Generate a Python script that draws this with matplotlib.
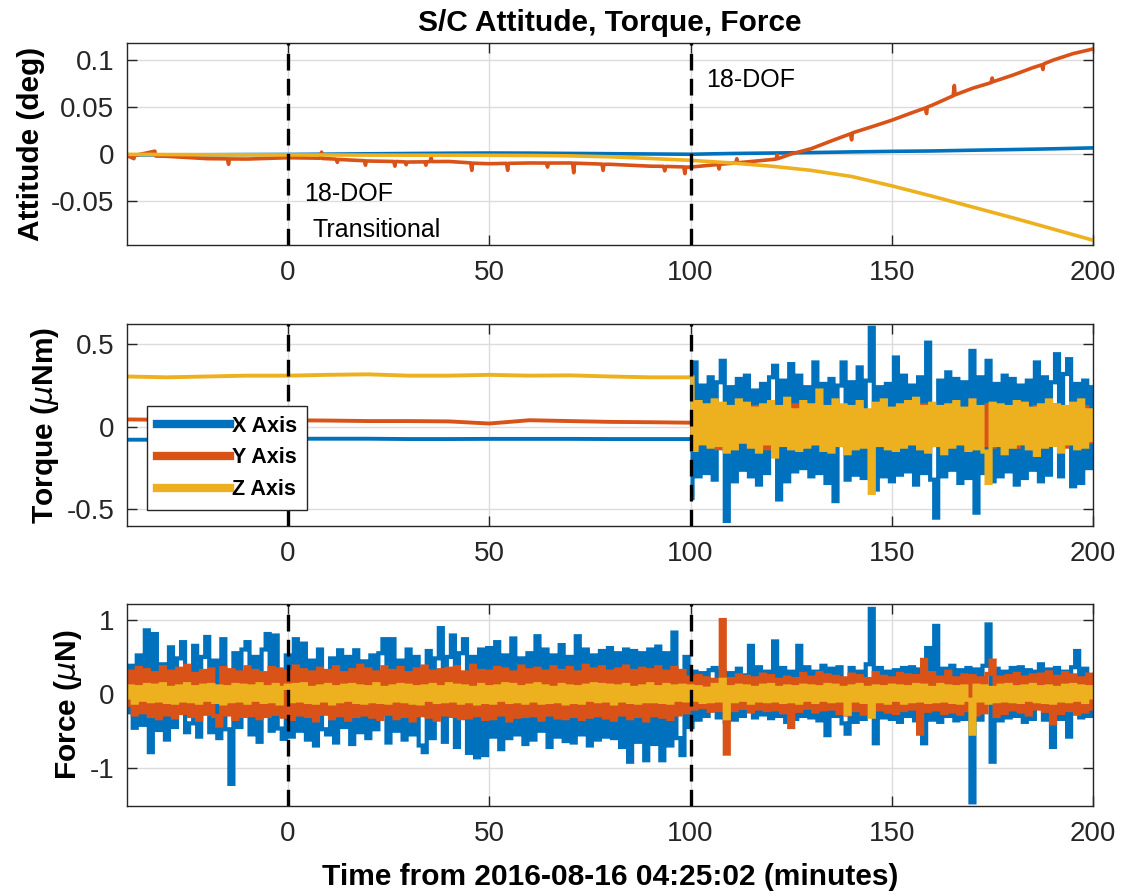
import numpy as np
import matplotlib
matplotlib.use("Agg")
import matplotlib.pyplot as plt
from matplotlib.ticker import FuncFormatter

plt.rcParams['font.family'] = ['Liberation Sans', 'DejaVu Sans']
plt.rcParams['mathtext.fontset'] = 'dejavusans'

BLUE, RED, YEL = '#0072BD', '#D95319', '#EDB120'
AXIS_LABELS = ['X Axis', 'Y Axis', 'Z Axis']

# --- attitude (deg), 10-min grid ---
T_ATT = [-40, -30, -20, -10, 0, 10, 20, 30, 40, 50, 60, 70, 80, 90, 100,
         110, 120, 130, 140, 150, 160, 170, 180, 190, 200]
ATT_X = [-0.001, -0.0009, -0.0008, -0.0006, -0.0005, -0.0002, 0.0002, 0.0005, 0.0008, 0.001,
         0.0009, 0.0006, 0.0003, 0.0, -0.0003, 0.0005, 0.001, 0.0015, 0.0022, 0.0028,
         0.0032, 0.004, 0.0047, 0.0055, 0.0065]
ATT_Z = [-0.0004, -0.0006, -0.0008, -0.0009, -0.001, -0.0011, -0.0012, -0.0013, -0.0013, -0.0014,
         -0.0016, -0.002, -0.003, -0.0048, -0.0068, -0.0095, -0.013, -0.0175, -0.024, -0.034,
         -0.045, -0.0565, -0.068, -0.080, -0.092]
# Y attitude has small one-sample glitches, so it keeps its own time stamps
T_ATT_Y = [-40, -38.2, -38.0, -33, -32.8, -30, -20, -15, -14.7, -14.5, -10, 0, 8, 8.4, 8.6,
           12, 12.3, 12.5, 19, 19.3, 19.5, 20, 26.3, 26.6, 26.8, 29.1, 29.4, 29.6, 34, 34.3,
           34.5, 35.3, 35.6, 35.8, 40, 45.4, 45.7, 45.9, 50, 54.3, 54.6, 54.8, 60, 64.2, 64.5,
           64.7, 70, 70.7, 71, 71.2, 78, 78.3, 78.5, 80, 90, 93.3, 93.6, 93.8, 98.3, 98.6,
           98.8, 100, 106.8, 107.1, 107.3, 110, 111.2, 111.5, 111.7, 120, 121.2, 121.5, 121.7, 125, 130,
           135, 139.7, 140, 140.2, 145, 150, 155, 158.3, 158.6, 158.8, 160, 165.2, 165.5, 165.7,
           170, 174.6, 174.9, 175.1, 180, 185, 187.2, 187.5, 187.7, 190, 195, 200]
ATT_Y = [-0.0015, -0.005, -0.0016, 0.003, -0.0022, -0.0025, -0.005, -0.0052, -0.011, -0.0053,
         -0.0054, -0.004, -0.0045, 0.002, -0.0048, -0.0055, -0.009, -0.0058, -0.0072, -0.012,
         -0.0074, -0.0075, -0.008, -0.013, -0.008, -0.0085, -0.0115, -0.0086, -0.0084, -0.012,
         -0.0083, -0.0082, -0.004, -0.0081, -0.008, -0.0095, -0.0175, -0.0098, -0.0104, -0.010,
         -0.0175, -0.010, -0.0096, -0.0097, -0.014, -0.0097, -0.0096, -0.0097, -0.020, -0.0098,
         -0.0108, -0.0175, -0.011, -0.011, -0.013, -0.0132, -0.018, -0.0133, -0.0138, -0.021,
         -0.014, -0.014, -0.0112, -0.016, -0.011, -0.010, -0.0095, -0.005, -0.0094, -0.006,
         -0.0055, -0.001, -0.005, 0.0, 0.0057, 0.014, 0.0215, 0.015, 0.0225, 0.029,
         0.036, 0.044, 0.049, 0.043, 0.050, 0.052, 0.062, 0.073, 0.063, 0.070,
         0.076, 0.081, 0.077, 0.084, 0.092, 0.095, 0.090, 0.096, 0.100, 0.107, 0.112]

# --- torque (uNm): steady part before 100 min ---
T_TQ_PRE = [-40, -30, -20, -10, 0, 10, 20, 30, 40, 50, 60, 70, 80, 90, 100]
TQ_X_PRE = [-0.078, -0.078, -0.076, -0.074, -0.072, -0.072, -0.072, -0.074, -0.074, -0.073,
            -0.073, -0.073, -0.074, -0.074, -0.074]
TQ_Y_PRE = [0.045, 0.042, 0.040, 0.040, 0.040, 0.038, 0.035, 0.035, 0.033, 0.020,
            0.040, 0.035, 0.030, 0.028, 0.025]
TQ_Z_PRE = [0.305, 0.300, 0.305, 0.310, 0.310, 0.315, 0.318, 0.310, 0.310, 0.315,
            0.310, 0.312, 0.305, 0.300, 0.300]

# --- torque after 100 min, one sample per minute (hundredths of uNm) ---
T_TQ_POST = np.arange(100, 201)
TQ_X_POST = np.array([
    -43, 39, -30, 25, -28, 30, -32, 27, 40, -57,
    24, -33, 29, -26, 31, -30, 22, -35, 26, -28,
    30, 37, -44, 28, -33, 38, -27, 31, -25, 24,
    -30, 39, -28, 26, -34, 29, -45, 25, 39, -32,
    27, -29, 36, -31, 28, 60, -38, 24, -30, 26,
    -33, 42, -29, 31, -27, 25, -35, 30, -28, 51,
    -32, -55, 28, -30, 33, -26, 29, -34, 27, -31,
    46, -52, 30, -28, 40, -33, 26, -30, 31, -27,
    29, -35, 25, -31, 28, -26, 39, -33, 30, -29,
    27, 44, -30, 32, 41, -36, 26, -34, 28, -25,
    24]) / 100
TQ_Y_POST = np.array([
    3, -12, 10, -9, 12, -11, 8, -13, 11, -10,
    9, -12, 13, -8, 10, -11, 12, -9, 11, -13,
    10, -9, 12, -11, 8, -12, 13, -10, 9, -11,
    12, -10, 11, -13, 9, -8, 12, -11, 10, -12,
    11, -9, 13, -10, 8, -12, 10, -11, 12, -9,
    10, -13, 9, -11, 12, -10, 11, -8, 13, -12,
    9, -11, 10, -12, 12, -9, 11, -10, 8, -13,
    12, -10, 9, -11, 13, -12, 10, -9, 11, -10,
    8, -12, 11, -9, 10, -13, 12, -11, 9, -10,
    13, -9, 10, -12, 11, -10, 8, -11, 12, -9,
    5]) / 100
TQ_Z_POST = np.array([
    30, -14, 15, -10, 13, -12, 16, -11, 14, -15,
    12, -13, 16, -9, 14, -12, 11, -15, 13, -10,
    15, -18, 12, -11, 17, -13, 10, -14, 15, -12,
    13, -10, 22, -14, 12, -15, 16, -11, 13, -16,
    12, -13, 15, -12, 10, -40, 14, -11, 16, -13,
    11, -14, 13, -12, 15, -10, 17, -13, 12, -15,
    14, -11, 12, -16, 13, -12, 15, -10, 11, -14,
    16, -13, 12, -15, -34, 14, -11, 13, -16, 12,
    -12, 15, -10, 14, -13, 11, -17, 13, -12, 16,
    -11, 13, -15, 12, -10, 14, -13, 16, -12, 10,
    -8]) / 100

# --- force (uN), one sample per minute (hundredths of uN) ---
T_F = np.arange(-40, 201)
F_X = np.array([
    -25, 38, -46, 52, -42, 86, -79, 81, -49, 40,
    -62, 63, -45, 48, 70, -52, -40, 65, -58, 50,
    77, -52, 45, -60, 74, -48, -122, 55, -45, 60,
    70, -55, 50, -65, 60, 81, -50, 79, -47, -61,
    52, -58, 74, -50, 68, -62, 45, -70, 60, -48,
    -55, 48, -66, 59, -45, 50, -68, 59, -52, 44,
    -60, 52, -48, 55, 74, -66, 74, -50, 45, -62,
    60, -55, 50, -70, -79, 58, -60, 48, 89, -65,
    50, 79, -72, 55, 74, -80, 50, -86, 60, -83,
    62, -58, 70, -75, 52, -60, 75, -55, 48, -68,
    55, -62, 78, -50, 60, -72, 52, -58, 66, -64,
    50, -66, 78, -55, 60, -70, 52, -62, 58, -58,
    62, -60, 55, -72, 60, -92, 58, -65, 55, -90,
    60, -68, 64, -90, 55, -70, 83, -60, -83, 50,
    -45, 30, -35, 28, -30, 32, 35, -32, 30, -38,
    28, -35, 34, -30, 25, 65, -32, 36, -28, 30,
    -33, 71, -30, 35, -38, 30, -34, 65, -30, 36,
    -32, 30, -36, 38, -56, 34, -30, 36, -40, -54,
    35, -38, 30, -34, 40, 115, -67, 35, -32, 30,
    -34, 32, -38, 35, -30, 36, -36, 33, -67, 62,
    -35, 92, -38, 34, -30, 38, -36, 32, -34, 35,
    -147, 33, -35, 38, 94, -92, 34, -36, 30, -32,
    35, -30, 36, -38, 32, -34, 30, 40, -35, 33,
    -72, 35, -34, 30, -58, 36, 58, -32, 34, -30,
    25]) / 100
F_Y = np.array([
    -15, 30, -28, 35, -25, 32, -30, 28, -33, 36,
    -28, 30, -32, 34, -26, 38, -30, 27, -35, 31,
    -27, 33, -30, -43, 35, -28, 32, -34, 29, -30,
    36, -29, 31, -33, 28, -30, 35, -27, 33, -31,
    30, -34, 37, -28, 32, -30, 29, -36, 34, -27,
    31, -33, 36, -29, 28, -35, 32, -30, 38, -28,
    33, -31, 29, -34, 36, -27, 31, -33, 35, -30,
    28, -36, 33, -29, 37, -31, 30, -35, 32, -28,
    34, -30, 36, -33, 29, -32, 38, -29, 31, -34,
    30, -33, 35, -28, 33, -36, 29, -31, 37, -30,
    32, -29, 34, -35, 30, -28, 36, -32, 31, -33,
    35, -30, 29, -34, 38, -31, 33, -29, 36, -32,
    30, -35, 33, -28, 37, -33, 31, -30, 34, -36,
    32, -29, 36, -31, 30, -34, 35, -28, 31, -25,
    22, -20, 24, -18, 21, -23, 19, -22, 100, -81,
    20, -22, 25, -19, 23, -24, 21, -20, 26, -22,
    24, -21, 19, -25, 22, -45, 20, -23, 27, -19,
    22, -24, 28, -21, 25, -20, 23, -26, 21, -28,
    26, -22, 24, -27, 20, -25, 28, -21, 23, -24,
    21, -26, 27, -22, 25, -20, 24, -54, 46, -23,
    28, -21, 22, -26, 30, -24, 21, -27, 25, -22,
    24, -28, 21, -25, 27, 45, -30, 22, -26, 24,
    -21, 27, -24, 22, -28, 25, -20, 26, -23, 29,
    -40, 23, -26, 28, -22, 25, -27, 21, -24, 26,
    -20]) / 100
F_Z = np.array([
    -5, 10, -12, 9, -8, 12, -10, 11, -9, 13,
    -11, 8, -12, 10, -9, 13, -10, 9, -12, 11,
    -8, 12, -11, 10, -13, 9, -10, 12, -9, 11,
    -12, 10, -8, 13, -11, 9, -10, 12, -13, 8,
    11, -10, 12, -9, 13, -11, 8, -12, 10, -9,
    12, -13, 9, -10, 11, -8, 12, -11, 10, -12,
    9, -10, 13, -11, 8, -12, 10, -9, 12, -10,
    11, -12, 9, -13, 10, -8, 12, -11, 9, -10,
    13, -9, 11, -12, 10, -10, 8, -13, 12, -11,
    9, -12, 10, -8, 13, -11, 12, -10, 9, -12,
    11, -9, 13, -12, 10, -11, 8, -10, 12, -13,
    10, -11, 9, -12, 11, -8, 13, -10, 12, -9,
    11, -13, 10, -9, 12, -11, 8, -12, 10, -10,
    13, -10, 9, -11, 12, -12, 10, -8, 11, -9,
    10, -8, 9, -11, 7, -10, 12, -9, 19, -33,
    9, -10, 11, -8, 10, -12, 8, -9, 11, -10,
    12, -9, 8, -11, 10, -10, 9, -12, 11, -8,
    10, -11, 9, -8, 12, -10, 11, -9, 8, -27,
    10, -9, 12, -11, 8, -31, 10, -10, 9, -12,
    11, -8, 10, -12, 9, -10, 12, -9, 11, -11,
    8, -10, 12, -9, 10, -11, 9, -12, 10, -8,
    -54, 11, -9, 10, -12, 8, -10, 11, -9, 12,
    -10, 9, -11, 10, -8, 12, -10, 9, -11, 10,
    -12, 8, -9, 11, -10, 12, -8, 10, -11, 9,
    -5]) / 100

EVENTS = [0, 100]
LABEL_FS = 21.5
# dense noisy traces: drawn as steps so the band fills like the original
NOISE = dict(lw=3.0, drawstyle='steps-mid', snap=False,
             solid_joinstyle='miter', solid_capstyle='butt')


def style(ax, ylim, yticks):
    ax.set_xlim(-40, 200)
    ax.set_ylim(*ylim)
    ax.set_xticks([0, 50, 100, 150, 200])
    ax.set_yticks(yticks)
    ax.yaxis.set_major_formatter(FuncFormatter(lambda v, p: f'{v:g}'))
    ax.tick_params(direction='in', length=7, width=1, top=True, right=True,
                   labelsize=20, colors='#262626')
    ax.tick_params(axis='x', pad=11)
    ax.tick_params(axis='y', pad=9)
    ax.grid(True, color='#DCDCDC', lw=1)
    for s in ax.spines.values():
        s.set_color('#262626')
        s.set_linewidth(1)
    for t0 in EVENTS:
        ax.axvline(t0, color='k', lw=2.4, ls=(0, (5, 2.5)), zorder=5)


fig = plt.figure(figsize=(11.25, 8.96), dpi=100)
L, W = 0.1126, 0.8592
ax1 = fig.add_axes([L, 0.7266, W, 0.2251])
ax2 = fig.add_axes([L, 0.4129, W, 0.2255])
ax3 = fig.add_axes([L, 0.1004, W, 0.2252])

# attitude
ax1.plot(T_ATT, ATT_X, color=BLUE, lw=2.6)
ax1.plot(T_ATT_Y, ATT_Y, color=RED, lw=2.6)
ax1.plot(T_ATT, ATT_Z, color=YEL, lw=2.6)
style(ax1, (-0.097, 0.118), [-0.05, 0, 0.05, 0.1])
ax1.set_ylabel('Attitude (deg)', fontsize=LABEL_FS, fontweight='bold')
ax1.text(4, -0.0425, '18-DOF', fontsize=18, va='center', ha='left')
ax1.text(6.2, -0.081, 'Transitional', fontsize=18, va='center', ha='left')
ax1.text(103.8, 0.079, '18-DOF', fontsize=18, va='center', ha='left')

# torque
hx, = ax2.plot(T_TQ_PRE, TQ_X_PRE, color=BLUE, lw=2.8)
hy, = ax2.plot(T_TQ_PRE, TQ_Y_PRE, color=RED, lw=2.8)
hz, = ax2.plot(T_TQ_PRE, TQ_Z_PRE, color=YEL, lw=2.8)
ax2.plot(T_TQ_POST, TQ_X_POST, color=BLUE, **NOISE)
ax2.plot(T_TQ_POST, TQ_Y_POST, color=RED, **NOISE)
ax2.plot(T_TQ_POST, TQ_Z_POST, color=YEL, **NOISE)
style(ax2, (-0.601, 0.623), [-0.5, 0, 0.5])
ax2.set_ylabel(r'Torque ($\mu$Nm)', fontsize=LABEL_FS, fontweight='bold')
leg = ax2.legend([hx, hy, hz], AXIS_LABELS, loc='upper left',
                 bbox_to_anchor=(0.0213, 0.594), borderaxespad=0,
                 prop={'size': 15.5, 'weight': 'bold'}, handlelength=3.4,
                 handletextpad=0.1, labelspacing=0.5, borderpad=0.45,
                 fancybox=False, framealpha=1, edgecolor='#262626')
leg.get_frame().set_linewidth(1)
leg.set_zorder(10)
for h in leg.legend_handles:
    h.set_linewidth(6)

# force
ax3.plot(T_F, F_X, color=BLUE, **NOISE)
ax3.plot(T_F, F_Y, color=RED, **NOISE)
ax3.plot(T_F, F_Z, color=YEL, **NOISE)
style(ax3, (-1.52, 1.213), [-1, 0, 1])
ax3.set_ylabel(r'Force ($\mu$N)', fontsize=LABEL_FS, fontweight='bold')

cx = L + W / 2
fig.text(cx, 0.9745, 'S/C Attitude, Torque, Force', fontsize=LABEL_FS,
         fontweight='bold', ha='center', va='center')
fig.text(cx, 0.0215, 'Time from 2016-08-16 04:25:02 (minutes)', fontsize=LABEL_FS,
         fontweight='bold', ha='center', va='center')

fig.savefig('out.png', dpi=100)
